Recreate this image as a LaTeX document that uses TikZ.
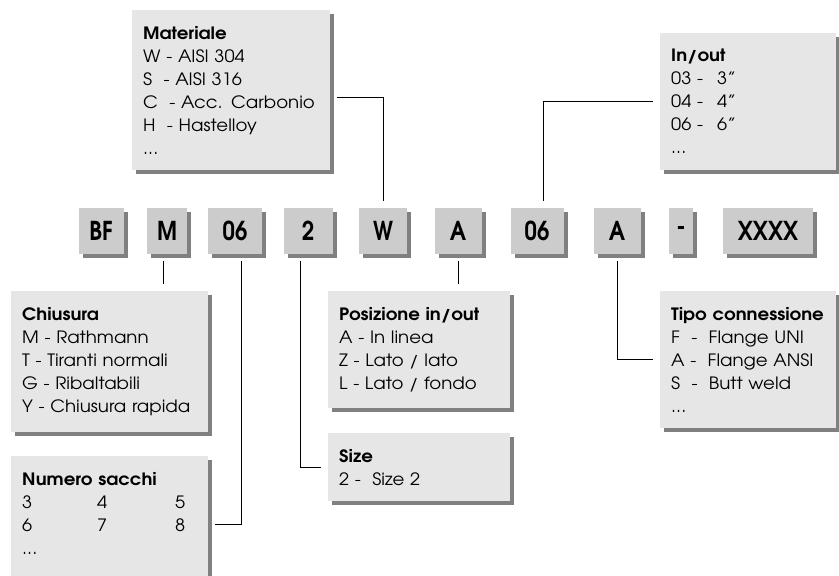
\documentclass[tikz,border=0pt]{standalone}
\usepackage{fontspec}
\setmainfont[FakeStretch=1.07]{TeX Gyre Adventor}
\newfontfamily\fontcodice[FakeStretch=0.85]{TeX Gyre Adventor}
\usetikzlibrary{shadows}

\definecolor{grigioCodice}{HTML}{CCCCCC}
\definecolor{grigioLegenda}{HTML}{E6E6E6}
\definecolor{grigioOmbra}{HTML}{808080}

\tikzset{
	codice/.style={fill=grigioCodice, inner sep=0pt, minimum height=46pt, text centered,
		font=\fontcodice\bfseries\fontsize{26}{26}\selectfont,
		general shadow={fill=grigioOmbra, shadow xshift=4pt, shadow yshift=-4pt}},
	legenda/.style={fill=grigioLegenda, anchor=north west, align=left, inner xsep=11pt, inner ysep=16pt,
		font=\fontsize{17}{23}\selectfont,
		general shadow={fill=grigioOmbra, shadow xshift=4pt, shadow yshift=-4pt}},
	collegamento/.style={line width=1pt, shorten <=7pt, shorten >=7pt}
}

\begin{document}
\begin{tikzpicture}[x=1pt, y=-1pt]
		
		\useasboundingbox (0,0) rectangle (839,576);
		
		%Riquadri del codice
		\node (codBF) at (101,231) [codice, minimum width=45pt]{BF};
		
		\node (codM) at (167,231) [codice, minimum width=40pt]{M};
		
		\node (cod06a) at (235,231) [codice, minimum width=54pt]{06};
		
		\node (cod2) at (308,231) [codice, minimum width=49pt]{2};
		
		\node (codW) at (383,231) [codice, minimum width=48pt]{W};
		
		\node (codA) at (458,231) [codice, minimum width=47pt]{A};
		
		\node (cod06b) at (537,231) [codice, minimum width=53pt]{06};
		
		\node (codA2) at (617,231) [codice, minimum width=47pt]{A};
		
		\node (codTrattino) at (681,231) [codice, minimum width=24pt]{-};
		
		\node (codX) at (768,231) [codice, minimum width=90pt]{XXXX};
		
		
		%Riquadri di legenda sopra
		\node (materiale) at (132,10) [legenda, text width=176pt]{\textbf{Materiale}\\W - AISI 304\\S\ \ - AISI 316\\C\ \ - Acc. Carbonio\\H\ \ - Hastelloy\\...};
		
		\node (inout) at (660,33) [legenda, text width=154pt]{\textbf{In/out}\\\makebox[46pt][l]{03 -}3''\\\makebox[46pt][l]{04 -}4''\\\makebox[46pt][l]{06 -}6''\\...};
		
		
		%Riquadri di legenda sotto
		\node (chiusura) at (11,291) [legenda, text width=175pt]{\textbf{Chiusura}\\M - Rathmann\\T - Tiranti normali\\G - Ribaltabili\\Y - Chiusura rapida};
		
		\node (numero) at (11,456) [legenda, text width=175pt]{\textbf{Numero sacchi}\\\makebox[75pt][l]{3}\makebox[78pt][l]{4}5\\\makebox[75pt][l]{6}\makebox[78pt][l]{7}8\\...\\\mbox{}};
		
		\node (posizione) at (328,291) [legenda, text width=160pt]{\textbf{Posizione in/out}\\A - In linea\\Z - Lato / lato\\L - Lato / fondo};
		
		\node (size) at (328,433) [legenda, text width=160pt]{\textbf{Size}\\2 -\ \ Size 2};
		
		\node (tipo) at (660,291) [legenda, text width=154pt]{\textbf{Tipo connessione}\\F\ \ -\ \ Flange UNI\\A -\ \ Flange ANSI\\S\ \ -\ \ Butt weld\\...};
		
		
		%Collegamenti
		\draw[collegamento] ([yshift=-7pt]materiale.east) -| (codW.north);
		
		\draw[collegamento] (inout.west) -| ([xshift=6pt]cod06b.north);
		
		\draw[collegamento] ([xshift=-4pt]codM.south) -- ([xshift=-4pt]codM.south |- chiusura.north);
		
		\draw[collegamento] ([xshift=6pt]cod06a.south) |- (numero.east);
		
		\draw[collegamento] ([xshift=-8pt]cod2.south) |- (size.west);
		
		\draw[collegamento] (codA.south) -- (codA.south |- posizione.north);
		
		\draw[collegamento] (codA2.south) |- (tipo.west);
		
		
\end{tikzpicture}
\end{document}
